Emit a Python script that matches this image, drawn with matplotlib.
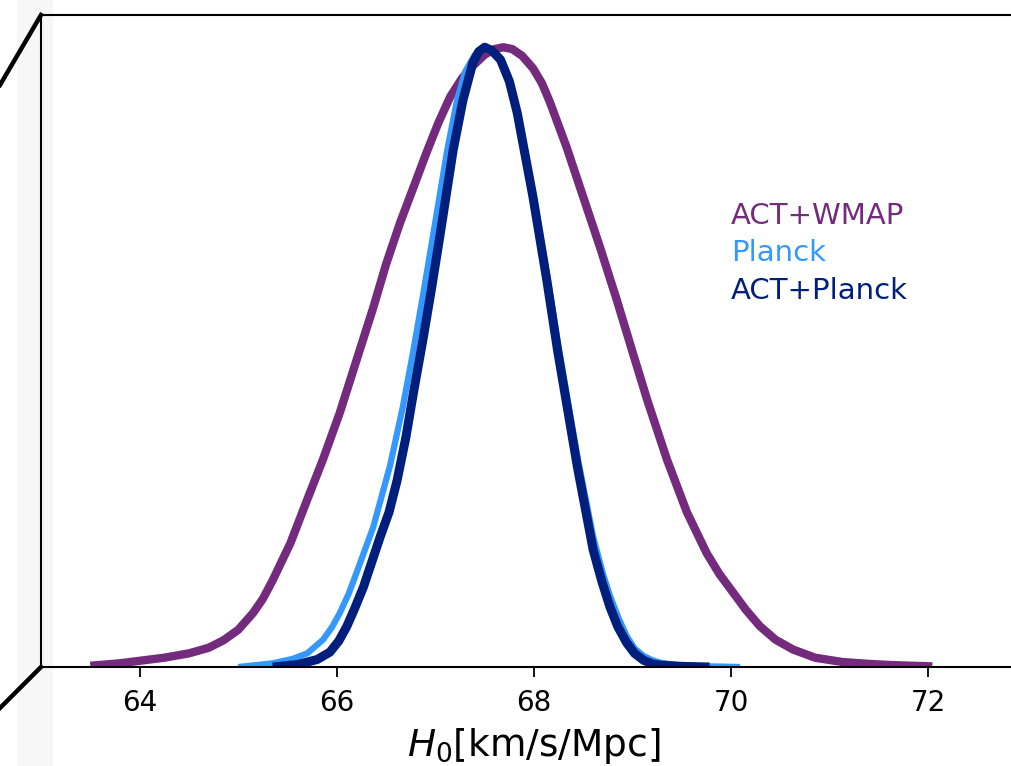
import matplotlib
matplotlib.use('Agg')
import matplotlib.pyplot as plt
from matplotlib.lines import Line2D
from matplotlib.patches import Rectangle

# H0 posteriors (peak normalised to 1)
h0_wmap = [63.50, 63.80, 64.00, 64.25, 64.50, 64.70, 64.85, 65.00, 65.15, 65.25,
           65.35, 65.53, 65.70, 65.86, 66.03, 66.20, 66.37, 66.50, 66.64, 66.78,
           66.91, 67.03, 67.15, 67.27, 67.38, 67.50, 67.60, 67.69, 67.78, 67.88,
           67.99, 68.08, 68.16, 68.33, 68.50, 68.67, 68.84, 69.00, 69.15, 69.35,
           69.55, 69.75, 69.88, 70.02, 70.15, 70.29, 70.45, 70.63, 70.85, 71.13,
           71.40, 71.64, 72.04]
p_wmap = [0.002, 0.006, 0.010, 0.015, 0.022, 0.031, 0.043, 0.060, 0.087, 0.110,
          0.140, 0.200, 0.270, 0.335, 0.410, 0.495, 0.580, 0.650, 0.716, 0.775,
          0.830, 0.878, 0.920, 0.950, 0.970, 0.988, 0.997, 1.000, 0.997, 0.986,
          0.966, 0.942, 0.912, 0.839, 0.758, 0.677, 0.592, 0.508, 0.430, 0.334,
          0.250, 0.184, 0.150, 0.120, 0.092, 0.066, 0.044, 0.028, 0.015, 0.008,
          0.005, 0.003, 0.001]

h0_planck = [65.00, 65.35, 65.55, 65.70, 65.86, 65.95, 66.03, 66.12, 66.20, 66.37,
             66.54, 66.67, 66.77, 66.88, 66.98, 67.12, 67.22, 67.30, 67.40, 67.50,
             67.58, 67.66, 67.75, 67.83, 67.99, 68.13, 68.24, 68.44, 68.60, 68.70,
             68.77, 68.86, 68.94, 69.02, 69.11, 69.20, 69.28, 69.50, 69.80, 70.09]
p_planck = [0.000, 0.006, 0.013, 0.022, 0.044, 0.064, 0.087, 0.118, 0.152, 0.226,
            0.325, 0.420, 0.505, 0.605, 0.700, 0.834, 0.915, 0.960, 0.988, 0.997,
            0.992, 0.978, 0.945, 0.896, 0.765, 0.635, 0.525, 0.340, 0.210, 0.150,
            0.115, 0.078, 0.050, 0.030, 0.018, 0.011, 0.007, 0.002, 0.001, 0.000]

h0_actp = [65.35, 65.60, 65.80, 65.93, 66.02, 66.10, 66.18, 66.27, 66.44, 66.53,
           66.61, 66.70, 66.78, 66.87, 66.96, 67.05, 67.18, 67.28, 67.38, 67.44,
           67.50, 67.57, 67.66, 67.75, 67.83, 67.99, 68.13, 68.24, 68.44, 68.60,
           68.69, 68.77, 68.85, 68.94, 69.02, 69.11, 69.20, 69.28, 69.50, 69.78]
p_actp = [0.000, 0.004, 0.012, 0.024, 0.042, 0.065, 0.094, 0.129, 0.210, 0.250,
          0.300, 0.370, 0.445, 0.525, 0.610, 0.700, 0.834, 0.915, 0.975, 0.993,
          1.000, 0.995, 0.980, 0.945, 0.894, 0.758, 0.624, 0.510, 0.323, 0.189,
          0.137, 0.097, 0.065, 0.039, 0.022, 0.011, 0.005, 0.003, 0.001, 0.000]

labels = ['ACT+WMAP', 'Planck', 'ACT+Planck']
colors = ['#742a7d', '#3399ff', '#001f7c']
xticks = [64, 66, 68, 70, 72]

fig = plt.figure(figsize=(10.12, 7.66), dpi=100)

# pale strip on the left edge and the inset connector lines
fig.patches.append(Rectangle((17 / 1012, 0), 36 / 1012, 1, transform=fig.transFigure,
                             facecolor='#f7f7f7', edgecolor='none', zorder=0))
fig.lines.append(Line2D([0, 41 / 1012], [1 - 85 / 766, 1 - 15 / 766],
                        transform=fig.transFigure, color='black', lw=3.2))
fig.lines.append(Line2D([0, 41 / 1012], [1 - 708 / 766, 1 - 667 / 766],
                        transform=fig.transFigure, color='black', lw=3.2))

ax = fig.add_axes([41 / 1012, 99 / 766, 986 / 1012, 652 / 766])
ax.set_facecolor('none')
ax.set_zorder(2)

style = dict(solid_capstyle='butt', solid_joinstyle='round')
ax.plot(h0_wmap, p_wmap, color=colors[0], lw=6, label=labels[0], **style)
ax.plot(h0_planck, p_planck, color=colors[1], lw=4.5, label=labels[1], **style)
ax.plot(h0_actp, p_actp, color=colors[2], lw=6.5, label=labels[2], **style)

ax.set_xlim(63, 73)
ax.set_ylim(0, 1.052)
ax.set_xticks(xticks)
ax.set_yticks([])
ax.tick_params(axis='x', labelsize=20, length=7, width=1.3, pad=9)
for s in ax.spines.values():
    s.set_linewidth(1.5)

ax.set_xlabel(r'$H_0$[km/s/Mpc]', fontsize=27, labelpad=6)

leg = ax.legend(loc='upper left', bbox_to_anchor=(0.70, 0.713), frameon=False,
                handlelength=0, handletextpad=0, borderpad=0, borderaxespad=0,
                fontsize=21, labelspacing=0.32, labelcolor='linecolor')
for h in leg.legend_handles:
    h.set_visible(False)

fig.savefig('out.png', dpi=100)
